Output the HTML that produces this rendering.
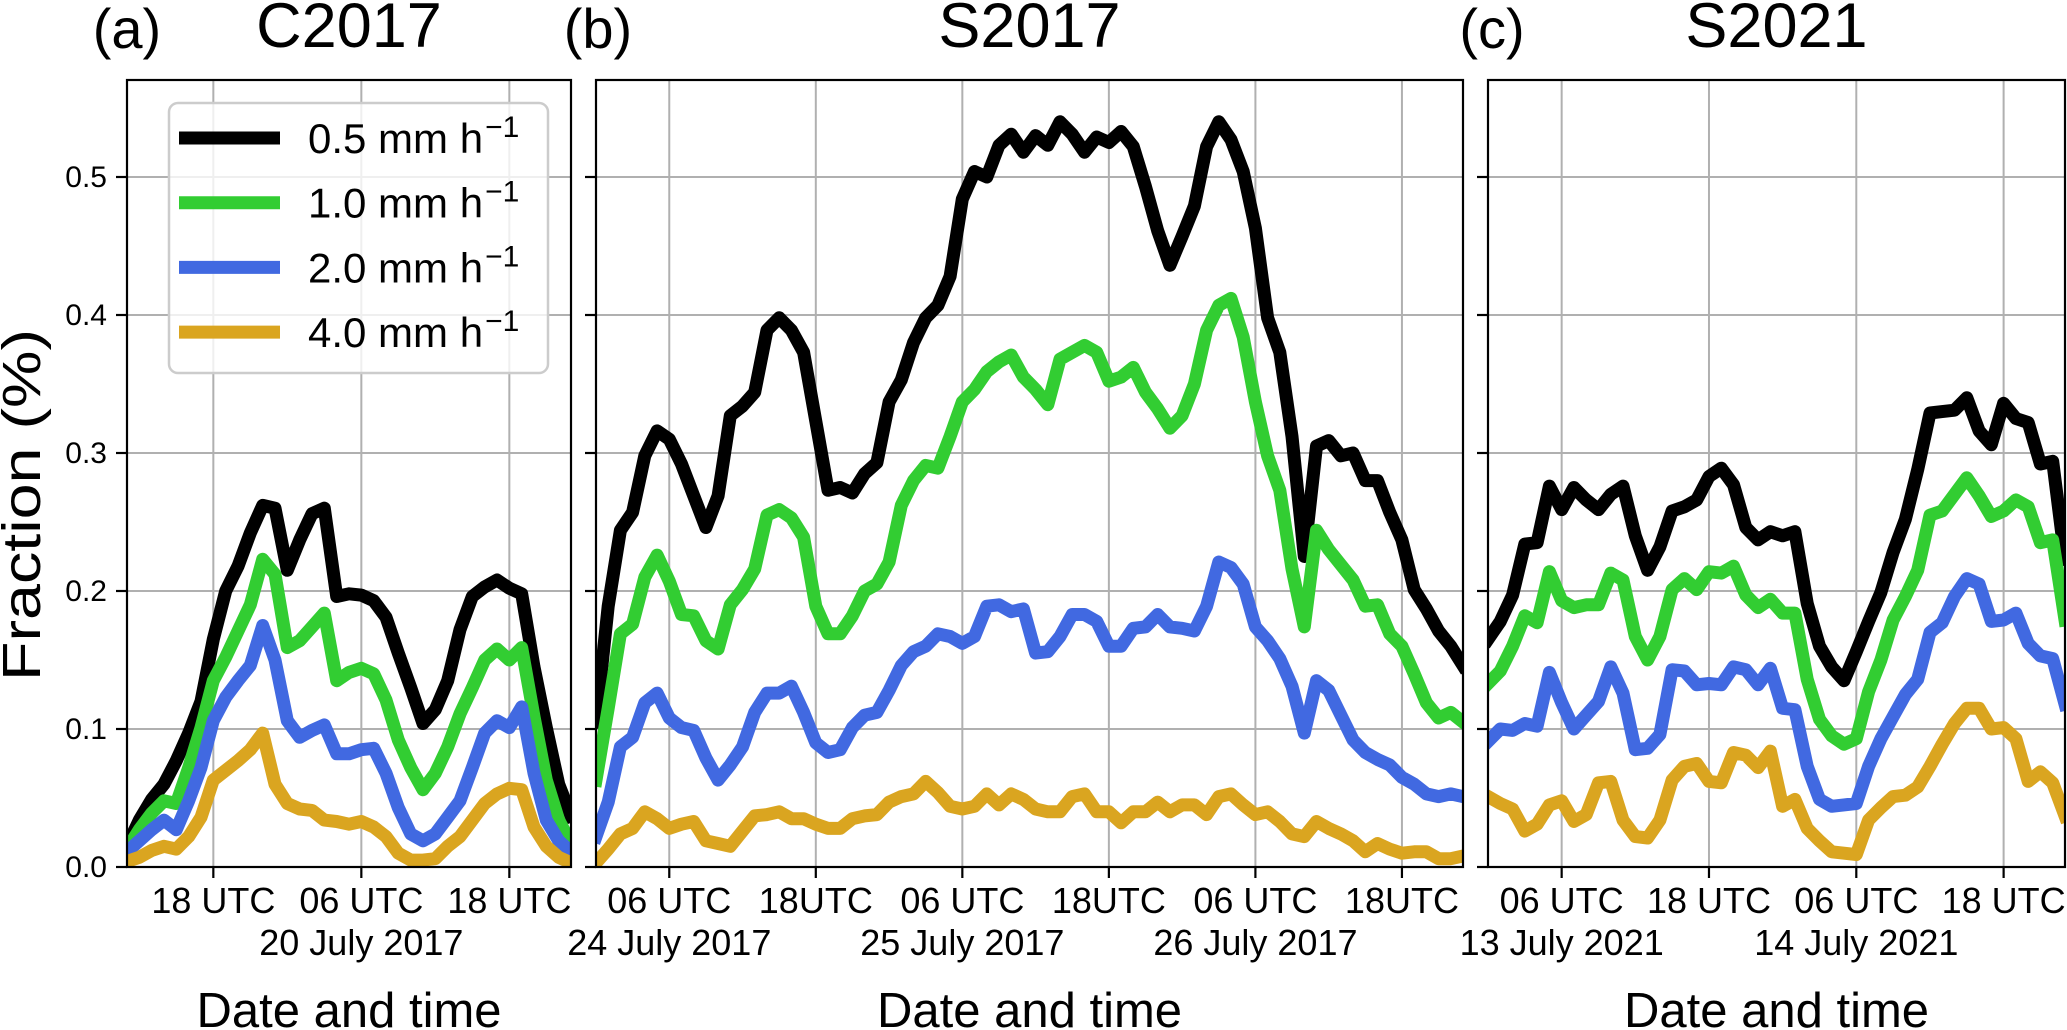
<!DOCTYPE html>
<html><head><meta charset="utf-8"><style>
html,body{margin:0;padding:0;background:#fff;}
svg{display:block;font-family:"Liberation Sans",Arial,sans-serif;}
</style></head><body>
<svg id="chart" width="2067" height="1030" viewBox="0 0 2067 1030" xmlns="http://www.w3.org/2000/svg"></svg>
<script>
// Panel (a) C2017: hourly, 11 UTC 19 July -> 23 UTC 20 July
const aBlack=[.015,.034,.049,.06,.077,.097,.12,.165,.2,.218,.242,.262,.26,.215,.237,.256,.26,.196,.198,.197,.193,.181,.155,.13,.104,.114,.135,.172,.196,.203,.208,.202,.198,.145,.101,.06,.037];
const aGreen=[.013,.027,.039,.048,.046,.072,.101,.135,.152,.171,.19,.223,.212,.159,.164,.174,.184,.135,.141,.144,.14,.121,.092,.072,.056,.068,.087,.111,.13,.15,.158,.15,.159,.109,.063,.034,.017];
const aBlue=[.011,.019,.027,.034,.027,.048,.072,.106,.123,.135,.146,.175,.15,.106,.094,.099,.103,.082,.082,.085,.086,.068,.043,.024,.019,.024,.036,.048,.072,.097,.106,.101,.116,.068,.034,.019,.011];
const aOrange=[.004,.007,.012,.015,.013,.022,.036,.063,.07,.077,.085,.097,.06,.046,.042,.041,.034,.033,.031,.033,.029,.022,.01,.005,.005,.006,.015,.022,.034,.046,.053,.057,.056,.029,.015,.007,.003];
// Panel (b) S2017: hourly, 00 UTC 24 July -> 23 UTC 26 July
const bBlack=[.105,.189,.244,.257,.298,.316,.31,.292,.269,.246,.269,.327,.334,.344,.389,.398,.389,.373,.323,.273,.275,.271,.285,.293,.337,.353,.38,.398,.407,.428,.484,.504,.5,.523,.531,.518,.53,.523,.54,.531,.518,.529,.525,.533,.522,.493,.461,.436,.457,.479,.522,.54,.527,.504,.463,.398,.373,.312,.225,.305,.309,.298,.3,.28,.28,.257,.237,.201,.187,.171,.16,.146];
const bGreen=[.063,.115,.169,.176,.21,.226,.207,.183,.182,.164,.158,.19,.201,.216,.255,.259,.253,.239,.189,.169,.169,.182,.2,.205,.221,.262,.28,.291,.289,.312,.337,.346,.359,.366,.371,.355,.346,.335,.368,.373,.378,.373,.352,.355,.362,.344,.332,.318,.327,.35,.389,.407,.412,.384,.337,.298,.273,.216,.174,.244,.23,.219,.208,.189,.19,.169,.16,.14,.119,.108,.112,.105];
const bBlue=[.022,.047,.087,.094,.119,.126,.108,.101,.099,.079,.063,.074,.087,.112,.126,.126,.131,.112,.09,.083,.085,.101,.11,.112,.128,.146,.156,.16,.169,.167,.162,.167,.189,.19,.185,.187,.155,.156,.167,.183,.183,.178,.16,.16,.173,.174,.183,.174,.173,.171,.189,.221,.217,.205,.174,.164,.151,.131,.097,.135,.128,.11,.092,.083,.078,.074,.065,.06,.053,.051,.053,.051];
const bOrange=[.003,.013,.024,.028,.04,.035,.028,.031,.033,.019,.017,.015,.026,.037,.038,.04,.035,.035,.031,.028,.028,.035,.037,.038,.047,.051,.053,.062,.054,.044,.042,.044,.053,.045,.053,.049,.042,.04,.04,.051,.053,.04,.04,.032,.04,.04,.047,.04,.045,.045,.038,.051,.053,.045,.038,.04,.033,.024,.022,.033,.028,.024,.019,.011,.017,.013,.01,.011,.011,.006,.006,.008];
// Panel (c) S2021: hourly, 00 UTC 13 July -> 23 UTC 14 July
const cBlack=[.165,.178,.197,.234,.235,.276,.259,.275,.266,.259,.27,.276,.24,.215,.232,.258,.261,.266,.283,.289,.277,.246,.237,.243,.24,.243,.191,.16,.145,.135,.156,.178,.199,.228,.252,.288,.329,.33,.331,.34,.316,.306,.336,.325,.322,.292,.294,.223];
const cGreen=[.133,.142,.16,.182,.177,.214,.193,.188,.19,.19,.213,.208,.167,.15,.167,.201,.209,.201,.214,.213,.218,.197,.188,.194,.184,.184,.136,.107,.095,.089,.093,.127,.15,.179,.196,.215,.255,.258,.27,.282,.269,.254,.258,.266,.261,.235,.237,.179];
const cBlue=[.091,.1,.099,.104,.102,.141,.119,.1,.11,.12,.145,.126,.085,.086,.096,.143,.142,.132,.133,.132,.145,.143,.132,.144,.115,.114,.073,.049,.044,.045,.046,.073,.093,.109,.125,.136,.17,.177,.196,.209,.205,.178,.179,.184,.162,.153,.151,.118];
const cOrange=[.051,.046,.042,.026,.031,.045,.048,.033,.038,.061,.062,.034,.022,.021,.034,.063,.073,.075,.062,.061,.083,.081,.072,.084,.044,.049,.028,.019,.011,.01,.009,.034,.043,.051,.052,.058,.073,.089,.104,.115,.115,.1,.101,.093,.062,.069,.061,.037];
const yTicks=[0,0.1,0.2,0.3,0.4,0.5];
const yTickLabels=["0.0","0.1","0.2","0.3","0.4","0.5"];
const aTickHours=[7,19,31];
const aTickLabels=["18 UTC","06 UTC","18 UTC"];
const bTickHours=[6,18,30,42,54,66];
const bTickLabels=["06 UTC","18UTC","06 UTC","18UTC","06 UTC","18UTC"];
const cTickHours=[6,18,30,42];
const cTickLabels=["06 UTC","18 UTC","06 UTC","18 UTC"];
const aDateHours=[19];const aDates=["20 July 2017"];
const bDateHours=[6,30,54];const bDates=["24 July 2017","25 July 2017","26 July 2017"];
const cDateHours=[6,30];const cDates=["13 July 2021","14 July 2021"];
const legendLabels=["0.5","1.0","2.0","4.0"];

const NS="http://www.w3.org/2000/svg";
const svg=document.getElementById('chart');
function mk(tag,attrs,parent){const e=document.createElementNS(NS,tag);for(const k in attrs)e.setAttribute(k,attrs[k]);(parent||svg).appendChild(e);return e;}
const colors=["#000000","#32cd32","#4169e1","#daa520"];
const seriesNames=["0p5","1p0","2p0","4p0"];
const Y0=867,Y1=80,YMAX=(867-80)/1380;
function yScale(v){return Y0-(v/YMAX)*(Y0-Y1);}

const panels=[
 {id:'a',x0:127,x1:571,hmax:36,series:[aBlack,aGreen,aBlue,aOrange],ticks:aTickHours,tl:aTickLabels,dh:aDateHours,dl:aDates,title:'C2017',tag:'(a)',tagX:127,labels:true},
 {id:'b',x0:596,x1:1463,hmax:71,series:[bBlack,bGreen,bBlue,bOrange],ticks:bTickHours,tl:bTickLabels,dh:bDateHours,dl:bDates,title:'S2017',tag:'(b)',tagX:598,labels:false},
 {id:'c',x0:1488,x1:2065,hmax:47,series:[cBlack,cGreen,cBlue,cOrange],ticks:cTickHours,tl:cTickLabels,dh:cDateHours,dl:cDates,title:'S2021',tag:'(c)',tagX:1492,labels:false}
];
const defs=mk('defs',{});
panels.forEach(p=>{
 const xs=h=>p.x0+(h/p.hmax)*(p.x1-p.x0);
 const g=mk('g',{});
 
 
 const cp=mk('clipPath',{id:'clip-'+p.id},defs);
 mk('rect',{x:p.x0,y:Y1,width:p.x1-p.x0,height:Y0-Y1},cp);
 yTicks.forEach((v,i)=>{ if(v>0){const l=mk('line',{x1:p.x0,x2:p.x1,y1:yScale(v),y2:yScale(v),stroke:'#b0b0b0','stroke-width':2},g);
  }});
 p.ticks.forEach(h=>{const l=mk('line',{x1:xs(h),x2:xs(h),y1:Y1,y2:Y0,stroke:'#b0b0b0','stroke-width':2},g);
  });
 p.series.forEach((arr,si)=>{
  const d=arr.map((v,h)=>(h?'L':'M')+xs(h).toFixed(1)+','+yScale(v).toFixed(1)).join(' ');
  const path=mk('path',{d:d,fill:'none',stroke:colors[si],'stroke-width':13,'stroke-linejoin':'round','stroke-linecap':'square','clip-path':'url(#clip-'+p.id+')'},g);
  
  
 });
 const fr=mk('rect',{x:p.x0,y:Y1,width:p.x1-p.x0,height:Y0-Y1,fill:'none',stroke:'#000','stroke-width':2.2},g);
 
 yTicks.forEach((v,i)=>{
  const t=mk('line',{x1:p.x0-11,x2:p.x0,y1:yScale(v),y2:yScale(v),stroke:'#000','stroke-width':2.2},g);
  
  if(p.labels){const tx=mk('text',{x:p.x0-20,y:yScale(v)+10,'font-size':30,'text-anchor':'end'},g);tx.textContent=yTickLabels[i];
   }
 });
 p.ticks.forEach((h,i)=>{
  const t=mk('line',{x1:xs(h),x2:xs(h),y1:Y0,y2:Y0+11,stroke:'#000','stroke-width':2.2},g);
  
  const tx=mk('text',{x:xs(h),y:913,'font-size':36,'text-anchor':'middle'},g);tx.textContent=p.tl[i];
  
 });
 p.dh.forEach((h,i)=>{
  const tx=mk('text',{x:xs(h),y:955,'font-size':36,'text-anchor':'middle'},g);tx.textContent=p.dl[i];
  
 });
 const xl=mk('text',{x:(p.x0+p.x1)/2,y:1027,'font-size':49,'text-anchor':'middle'},g);xl.textContent='Date and time';
 
 const tt=mk('text',{x:(p.x0+p.x1)/2,y:47,'font-size':63,'text-anchor':'middle'},g);tt.textContent=p.title;
 
 const tg=mk('text',{x:p.tagX,y:48,'font-size':56,'text-anchor':'middle'},g);tg.textContent=p.tag;
 
});
const yl=mk('text',{x:0,y:0,'font-size':54,'text-anchor':'middle',transform:'translate(40,505) rotate(-90)',textLength:352,lengthAdjust:'spacingAndGlyphs'});
yl.textContent='Fraction (%)';

const lg=mk('g',{});

mk('rect',{x:169,y:103,width:379,height:270,rx:9,fill:'#fff','fill-opacity':0.8,stroke:'#cccccc','stroke-width':2.5},lg);
legendLabels.forEach((lab,i)=>{
 const yb=153+i*64.7;
 const e=mk('g',{},lg);
 
 mk('line',{x1:179,x2:280,y1:yb-15,y2:yb-15,stroke:colors[i],'stroke-width':13},e);
 const t=mk('text',{x:308,y:yb,'font-size':42},e);
 const m=mk('tspan',{},t); m.textContent=lab+' mm h';
 const s=mk('tspan',{dx:2,dy:-16,'font-size':30},t); s.textContent='\u22121';
});
</script>
</body></html>
